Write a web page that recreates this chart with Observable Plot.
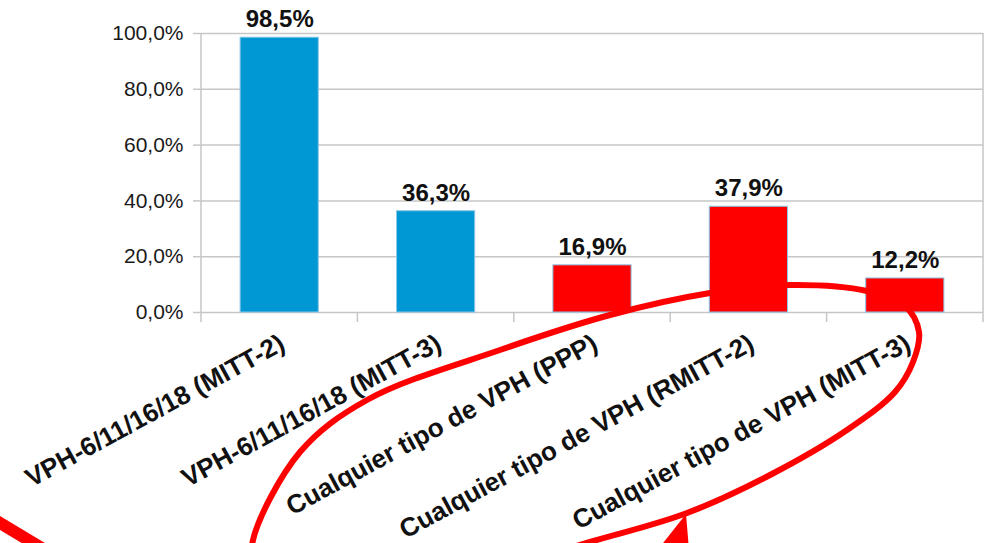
<!DOCTYPE html>
<html>
<head>
<meta charset="utf-8">
<script src="https://cdn.jsdelivr.net/npm/d3@7"></script>
<script src="https://cdn.jsdelivr.net/npm/@observablehq/plot@0.6"></script>
<style>
  html, body { margin: 0; padding: 0; background: #fff; }
  #chart svg { display: block; }
</style>
</head>
<body>
<div id="chart"></div>
<script>
// ---- data ----
const categories = [
  "VPH-6/11/16/18 (MITT-2)",
  "VPH-6/11/16/18 (MITT-3)",
  "Cualquier tipo de VPH (PPP)",
  "Cualquier tipo de VPH (RMITT-2)",
  "Cualquier tipo de VPH (MITT-3)"
];
const values = [98.5, 36.3, 16.9, 37.9, 12.2];
const groups = ["VPH-6/11/16/18", "VPH-6/11/16/18", "Cualquier tipo de VPH", "Cualquier tipo de VPH", "Cualquier tipo de VPH"];
const groupNames = ["VPH-6/11/16/18", "Cualquier tipo de VPH"];
const groupColors = ["#0098d4", "#ff0000"];
const yTicks = [0, 20, 40, 60, 80, 100];

const fmtPct = v => v.toFixed(1).replace(".", ",") + "%";
const data = categories.map((c, i) => ({category: c, value: values[i], group: groups[i]}));

const gridColor = "#c6c6c6";

const chart = Plot.plot({
  width: 986,
  height: 543,
  marginTop: 33,
  marginRight: 3,
  marginBottom: 231,
  marginLeft: 201,
  style: {fontFamily: "'Liberation Sans', Arial, sans-serif", background: "#fff", overflow: "visible"},
  x: {domain: categories, paddingInner: 0.5, paddingOuter: 0.25, round: false, axis: null},
  y: {domain: [0, 100], axis: null},
  color: {domain: groupNames, range: groupColors},
  marks: [
    Plot.gridY(yTicks, {stroke: gridColor, strokeOpacity: 1, strokeWidth: 1.5}),
    Plot.axisY(yTicks, {
      tickFormat: fmtPct, tickSize: 8, tickPadding: 10, fontSize: 21,
      stroke: gridColor, strokeWidth: 1.5, fill: "#1a1a1a", label: null
    }),
    Plot.barY(data, {x: "category", y: "value", fill: "group", stroke: "#8cc6e6", strokeWidth: 1}),
    Plot.text(data, {
      x: "category", y: "value", text: d => fmtPct(d.value),
      dy: -18, fontSize: 24, fontWeight: "bold", fill: "#111"
    }),
    Plot.text(categories, {
      x: d => d, frameAnchor: "bottom", rotate: -28.5, textAnchor: "end", lineAnchor: "middle",
      dx: 3, dy: 29, fontSize: 26, fontWeight: "bold", fill: "#111"
    })
  ]
});

document.getElementById("chart").appendChild(chart);

// ---- frame lines and category boundary ticks (from the scales) ----
const svg = d3.select(chart.tagName.toLowerCase() === "svg" ? chart : chart.querySelector("svg"));
const xs = chart.scale("x");
const ys = chart.scale("y");
const gap = (xs.step - xs.bandwidth) / 2;
const bounds = categories.map(c => xs.apply(c) - gap);
bounds.push(xs.apply(categories[categories.length - 1]) + xs.bandwidth + gap);
const frame = svg.append("g").attr("stroke", gridColor).attr("stroke-width", 1.5);
bounds.forEach((bx, i) => {
  const edge = i === 0 || i === bounds.length - 1;
  frame.append("line")
    .attr("x1", bx).attr("x2", bx)
    .attr("y1", edge ? ys.apply(100) : ys.apply(0))
    .attr("y2", ys.apply(0) + 10);
});

// ---- hand-drawn red annotation overlay (pixel space) ----
const ellipsePts = [
  [253,540],[300,452],[367,400],[500,350],[610,315],[710,293],[787,285],[867,291],
  [905,306],[919,332],[913,362],[895,392],[847,430],[770,475],[687,513],[590,542],
  [500,568],[400,592],[320,602],[272,592],[254,566]
];
const ann = svg.append("g");
ann.append("path")
  .attr("d", d3.line().curve(d3.curveCatmullRomClosed)(ellipsePts))
  .attr("fill", "none").attr("stroke", "#ff0000").attr("stroke-width", 6);
ann.append("path")
  .attr("d", "M686,514L689,550L656,552Z")
  .attr("fill", "#ff0000");
ann.append("line")
  .attr("x1", -20).attr("y1", 511).attr("x2", 80).attr("y2", 571)
  .attr("stroke", "#ff0000").attr("stroke-width", 12);
</script>
</body>
</html>
